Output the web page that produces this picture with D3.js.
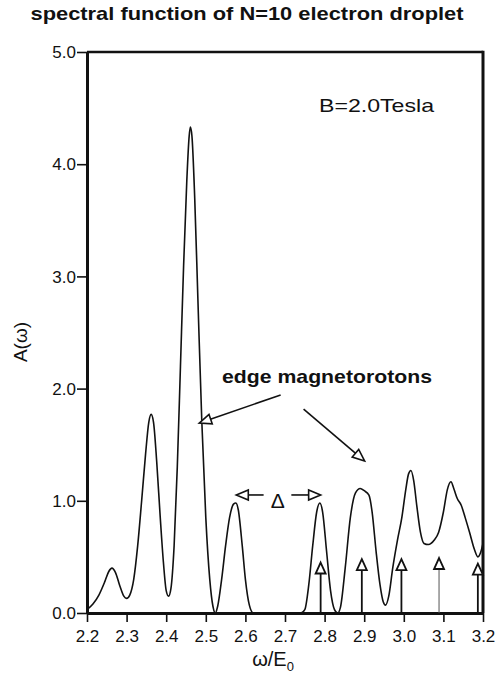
<!DOCTYPE html>
<html>
<head>
<meta charset="utf-8">
<script src="https://cdn.jsdelivr.net/npm/d3@7"></script>
<style>
  html, body { margin: 0; padding: 0; background: #fff; }
  svg { display: block; }
  text { font-family: "Liberation Sans", Arial, sans-serif; fill: #111; }
</style>
</head>
<body>
<script>
// Spectral function A(omega) of an N=10 electron droplet at B = 2.0 T
const omega = [
  2.200, 2.215, 2.230, 2.245, 2.255, 2.263, 2.272, 2.283, 2.293, 2.300,
  2.308, 2.318, 2.328, 2.338, 2.348, 2.356, 2.362, 2.368, 2.376, 2.385,
  2.393, 2.400, 2.406, 2.412, 2.420, 2.428, 2.436, 2.444, 2.452, 2.458,
  2.461, 2.465, 2.472, 2.480, 2.490, 2.500, 2.510, 2.518, 2.524, 2.530,
  2.540, 2.550, 2.560, 2.570, 2.576, 2.582, 2.592, 2.600, 2.610, 2.620,
  2.740, 2.750, 2.760, 2.770, 2.780, 2.788, 2.795, 2.805, 2.815, 2.825,
  2.833, 2.840, 2.852, 2.865, 2.878, 2.890, 2.900, 2.912, 2.920, 2.930,
  2.940, 2.948, 2.954, 2.962, 2.972, 2.984, 2.995, 3.005, 3.012, 3.018,
  3.025, 3.033, 3.042, 3.051, 3.062, 3.077, 3.088, 3.100, 3.110, 3.119,
  3.127, 3.135, 3.145, 3.155, 3.166, 3.178, 3.187, 3.195, 3.200
];
const spectral = [
  0.03, 0.08, 0.16, 0.28, 0.37, 0.40, 0.36, 0.24, 0.15, 0.13,
  0.16, 0.30, 0.60, 1.00, 1.42, 1.70, 1.77, 1.70, 1.35, 0.85,
  0.45, 0.20, 0.15, 0.22, 0.60, 1.30, 2.20, 3.10, 3.85, 4.25,
  4.33, 4.25, 3.70, 2.80, 1.70, 0.85, 0.30, 0.06, 0.00, 0.06,
  0.30, 0.60, 0.85, 0.97, 0.98, 0.92, 0.60, 0.30, 0.07, 0.00,
  0.00, 0.03, 0.25, 0.60, 0.90, 0.98, 0.90, 0.55, 0.20, 0.03,
  0.00, 0.05, 0.40, 0.85, 1.07, 1.11, 1.09, 1.05, 0.90, 0.55,
  0.25, 0.10, 0.07, 0.15, 0.40, 0.65, 0.85, 1.10, 1.24, 1.27,
  1.18, 0.95, 0.72, 0.62, 0.61, 0.65, 0.72, 0.90, 1.10, 1.17,
  1.10, 1.02, 0.96, 0.85, 0.72, 0.57, 0.50, 0.55, 0.62
];

// collective (magnetoplasmon) mode energies and their marker heights
const modeOmega  = [2.790, 2.894, 2.994, 3.089, 3.187];
const modeHeight = [0.45, 0.48, 0.48, 0.49, 0.44];
const modeWeight = [2, 2, 2, 1, 2];

const xTicks = [2.2, 2.3, 2.4, 2.5, 2.6, 2.7, 2.8, 2.9, 3.0, 3.1, 3.2];
const yTicks = [0, 1, 2, 3, 4, 5];

const W = 495, H = 680;
const plotLeft = 87, plotRight = 483, plotTop = 52, plotBottom = 613;

const svg = d3.select("body").append("svg")
  .attr("width", W).attr("height", H);

const x = d3.scaleLinear().domain([2.2, 3.2]).range([plotLeft, plotRight]);
const y = d3.scaleLinear().domain([0, 5]).range([plotBottom, plotTop]);

// title
svg.append("text")
  .attr("x", 247).attr("y", 20)
  .attr("text-anchor", "middle")
  .attr("font-size", 19).attr("font-weight", "bold")
  .attr("textLength", 433).attr("lengthAdjust", "spacingAndGlyphs")
  .text("spectral function of N=10 electron droplet");

// clip for the curve
svg.append("clipPath").attr("id", "plot")
  .append("rect").attr("x", plotLeft).attr("y", plotTop)
  .attr("width", plotRight - plotLeft).attr("height", plotBottom - plotTop);

// frame: top and right edges
svg.append("line").attr("x1", plotLeft).attr("x2", plotRight)
  .attr("y1", plotTop).attr("y2", plotTop)
  .attr("stroke", "#111").attr("stroke-width", 2.5);
svg.append("line").attr("x1", plotRight).attr("x2", plotRight)
  .attr("y1", plotTop - 1.2).attr("y2", plotBottom)
  .attr("stroke", "#111").attr("stroke-width", 3);

// axes
const xAxis = svg.append("g")
  .attr("transform", `translate(0,${plotBottom})`)
  .call(d3.axisBottom(x).tickValues(xTicks).tickSize(9).tickSizeOuter(0)
    .tickFormat(d3.format(".1f")));
const yAxis = svg.append("g")
  .attr("transform", `translate(${plotLeft},0)`)
  .call(d3.axisLeft(y).tickValues(yTicks).tickSize(10).tickSizeOuter(0)
    .tickFormat(d3.format(".1f")));

[xAxis, yAxis].forEach(g => {
  g.select(".domain").attr("stroke", "#111").attr("stroke-width", 3);
  g.selectAll(".tick line").attr("stroke", "#111").attr("stroke-width", 1.6);
  g.selectAll(".tick text")
    .attr("font-family", "Liberation Sans, Arial, sans-serif")
    .attr("font-size", 17).attr("fill", "#111");
});
xAxis.selectAll(".tick text").attr("dy", "0.95em").attr("y", 13);
yAxis.selectAll(".tick text").attr("x", -11).attr("dy", "0.34em");

// axis titles
svg.append("text")
  .attr("transform", "translate(27,342) rotate(-90)")
  .attr("text-anchor", "middle")
  .attr("font-size", 19)
  .text("A(ω)");

const xl = svg.append("text")
  .attr("x", 273).attr("y", 666)
  .attr("text-anchor", "middle")
  .attr("font-size", 20);
xl.append("tspan").text("ω/E");
xl.append("tspan").attr("font-size", 13).attr("dy", 5).text("0");

// spectral curve
const line = d3.line()
  .x((d, i) => x(omega[i]))
  .y(d => y(d))
  .curve(d3.curveMonotoneX);

svg.append("path")
  .datum(spectral)
  .attr("clip-path", "url(#plot)")
  .attr("d", line)
  .attr("fill", "none")
  .attr("stroke", "#111")
  .attr("stroke-width", 1.6);

// open-triangle arrow head with tip at (tx,ty), pointing along (dx,dy)
function head(g, tx, ty, dx, dy, len, half, sw) {
  const n = Math.hypot(dx, dy), ux = dx / n, uy = dy / n;
  const bx = tx - ux * len, by = ty - uy * len;
  const px = -uy * half, py = ux * half;
  g.append("path")
    .attr("d", `M${tx},${ty}L${bx + px},${by + py}L${bx - px},${by - py}Z`)
    .attr("fill", "#fff").attr("stroke", "#111")
    .attr("stroke-width", sw).attr("stroke-linejoin", "miter");
}

// collective mode markers
const modes = svg.append("g");
modeOmega.forEach((w, i) => {
  const tipY = y(modeHeight[i]);
  modes.append("line")
    .attr("x1", x(w)).attr("x2", x(w))
    .attr("y1", tipY + 10).attr("y2", plotBottom)
    .attr("stroke", modeWeight[i] > 1 ? "#111" : "#555")
    .attr("stroke-width", modeWeight[i] > 1 ? 1.8 : 1);
  head(modes, x(w), tipY, 0, -1, 11, 5, 1.8);
});

// annotations
svg.append("text")
  .attr("x", 319).attr("y", 112)
  .attr("font-size", 19)
  .attr("textLength", 115).attr("lengthAdjust", "spacingAndGlyphs")
  .text("B=2.0Tesla");

svg.append("text")
  .attr("x", 222).attr("y", 383)
  .attr("font-size", 19).attr("font-weight", "bold")
  .attr("textLength", 210).attr("lengthAdjust", "spacingAndGlyphs")
  .text("edge magnetorotons");

const ann = svg.append("g");
// pointer arrows: [from omega, from A, to omega, to A]
const pointers = [
  [2.689, 1.943, 2.4835, 1.693],
  [2.747, 1.818, 2.901, 1.355],
  [2.646, 1.052, 2.577, 1.052],
  [2.716, 1.052, 2.790, 1.052]
];
pointers.forEach(p => {
  const x1 = x(p[0]), y1 = y(p[1]), x2 = x(p[2]), y2 = y(p[3]);
  const dx = x2 - x1, dy = y2 - y1, n = Math.hypot(dx, dy);
  ann.append("line")
    .attr("x1", x1).attr("y1", y1)
    .attr("x2", x2 - dx / n * 11).attr("y2", y2 - dy / n * 11)
    .attr("stroke", "#111").attr("stroke-width", 1.6);
  head(ann, x2, y2, dx, dy, 12, 5, 1.6);
});

svg.append("text")
  .attr("x", x(2.682)).attr("y", 508)
  .attr("text-anchor", "middle")
  .attr("font-size", 21)
  .attr("font-family", "DejaVu Sans, sans-serif")
  .text("Δ");
</script>
</body>
</html>
